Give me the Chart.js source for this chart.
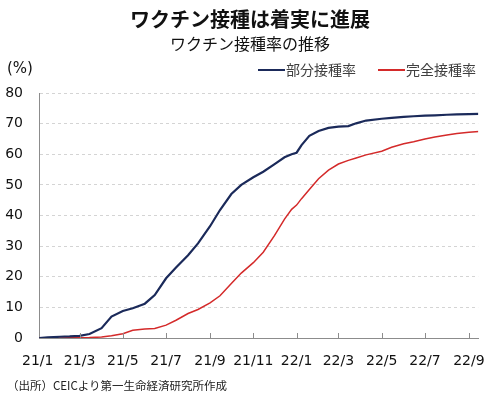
<!DOCTYPE html>
<html>
<head>
<meta charset="utf-8">
<script src="https://cdn.jsdelivr.net/npm/chart.js@4"></script>
<style>
  body { margin: 0; background: #fff; }
  #wrap { position: relative; width: 500px; height: 396px; font-family: "Noto Sans CJK JP", sans-serif; color: #111; }
  #wrap canvas { position: absolute; left: 0; top: 0; }
  .txt { position: absolute; white-space: nowrap; line-height: 1; }
  #title { left: 0; width: 500px; top: 9px; text-align: center; font-size: 20px; font-weight: bold; }
  #subtitle { left: 0; width: 500px; top: 35px; text-align: center; font-size: 16px; }
  #unit { left: 7px; top: 61px; font-size: 15px; font-family: "DejaVu Sans", sans-serif; }
  .leg { top: 62px; font-size: 14px; color: #404040; }
  .leg i { display: inline-block; width: 27px; height: 2px; vertical-align: middle; margin-right: 1px; position: relative; top: -1px; }
  #note { left: 7px; top: 380px; font-size: 11.5px; color: #222; }
</style>
</head>
<body>
<div id="wrap">
  <canvas id="vaxChart" width="500" height="396"></canvas>
  <div class="txt" id="title">ワクチン接種は着実に進展</div>
  <div class="txt" id="subtitle">ワクチン接種率の推移</div>
  <div class="txt" id="unit">(%)</div>
  <div class="txt leg" style="left:258px"><i style="background:#1b2a5a"></i>部分接種率</div>
  <div class="txt leg" style="left:378px"><i style="background:#d42a2a"></i>完全接種率</div>
  <div class="txt" id="note">（出所）CEICより第一生命経済研究所作成</div>
</div>
<script>
const dates = ["2021-01-03", "2021-01-15", "2021-02-01", "2021-02-15", "2021-03-01", "2021-03-15",
  "2021-04-01", "2021-04-15", "2021-05-01", "2021-05-15", "2021-06-01", "2021-06-15",
  "2021-07-01", "2021-07-15", "2021-08-01", "2021-08-15", "2021-09-01", "2021-09-15",
  "2021-10-01", "2021-10-15", "2021-11-01", "2021-11-15", "2021-12-01", "2021-12-15",
  "2021-12-25", "2022-01-01", "2022-01-08", "2022-01-19", "2022-02-01", "2022-02-15",
  "2022-03-01", "2022-03-15", "2022-03-26", "2022-04-09", "2022-05-01", "2022-05-15",
  "2022-06-01", "2022-06-15", "2022-07-01", "2022-07-15", "2022-08-01", "2022-08-15",
  "2022-09-01", "2022-09-15"];
const partialRate = [0, 0.2, 0.4, 0.5, 0.7, 1.3, 3.2, 7.0, 8.8, 9.7, 11.2, 14.0,
  19.5, 23.0, 27.0, 30.9, 36.5, 41.8, 47.0, 50.0, 52.5, 54.3, 56.8, 59.0,
  60.0, 60.5, 63.0, 66.0, 67.6, 68.6, 69.0, 69.2, 70.1, 71.0, 71.6, 71.9,
  72.2, 72.4, 72.6, 72.7, 72.9, 73.0, 73.1, 73.2];
const fullRate = [0, 0, 0, 0.05, 0.1, 0.15, 0.3, 0.7, 1.4, 2.5, 2.9, 3.1,
  4.2, 5.8, 8.0, 9.3, 11.5, 13.8, 17.8, 21.2, 24.6, 28.0, 33.5, 38.8,
  42.0, 43.4, 45.5, 48.5, 52.0, 54.8, 56.8, 58.0, 58.8, 59.8, 61.0, 62.3,
  63.4, 64.1, 65.0, 65.6, 66.3, 66.8, 67.2, 67.4];
const tickDates = ["2021-01-01", "2021-03-01", "2021-05-01", "2021-07-01", "2021-09-01", "2021-11-01",
  "2022-01-01", "2022-03-01", "2022-05-01", "2022-07-01", "2022-09-01"];
const tickLabels = ["21/1", "21/3", "21/5", "21/7", "21/9", "21/11", "22/1", "22/3", "22/5", "22/7", "22/9"];

// days since 2021-01-01
function dayOf(s) {
    const p = s.split("-").map(Number);
    return (Date.UTC(p[0], p[1] - 1, p[2]) - Date.UTC(2021, 0, 1)) / 86400000;
}
const tickDays = tickDates.map(dayOf);

// short tick marks pointing up from the x axis
const innerTicks = {
    id: "innerTicks",
    afterDraw(chart) {
        const ctx = chart.ctx, x = chart.scales.x, bottom = chart.chartArea.bottom;
        ctx.save();
        ctx.strokeStyle = "#8c8c8c";
        ctx.lineWidth = 1;
        tickDays.forEach(function (d) {
            if (d < x.min) return;
            const px = Math.round(x.getPixelForValue(d)) + 0.5;
            ctx.beginPath();
            ctx.moveTo(px, bottom);
            ctx.lineTo(px, bottom - 5);
            ctx.stroke();
        });
        ctx.restore();
    }
};

new Chart(document.getElementById("vaxChart"), {
    type: "line",
    data: {
        datasets: [{
            label: "部分接種率",
            data: dates.map((d, i) => ({ x: dayOf(d), y: partialRate[i] })),
            borderColor: "#1b2a5a",
            borderWidth: 2.2,
            pointRadius: 0,
            tension: 0
        }, {
            label: "完全接種率",
            data: dates.map((d, i) => ({ x: dayOf(d), y: fullRate[i] })),
            borderColor: "#d42a2a",
            borderWidth: 1.5,
            pointRadius: 0,
            tension: 0
        }]
    },
    options: {
        responsive: false,
        animation: false,
        layout: { padding: { top: 93, left: 5, right: 17, bottom: 25 } },
        plugins: {
            legend: { display: false },
            tooltip: { enabled: false }
        },
        scales: {
            x: {
                type: "linear",
                min: 1.8,
                max: 621,
                afterBuildTicks: function (scale) {
                    scale.ticks = tickDays.map(v => ({ value: v }));
                },
                afterFit: function (scale) { scale.height = 33; },
                ticks: {
                    autoSkip: false,
                    maxRotation: 0,
                    padding: 15,
                    color: "#111",
                    font: { family: "DejaVu Sans", size: 14 },
                    callback: function (v) {
                        const i = tickDays.indexOf(v);
                        return i >= 0 ? tickLabels[i] : "";
                    }
                },
                grid: { drawOnChartArea: false, drawTicks: false },
                border: { color: "#8c8c8c", width: 1 }
            },
            y: {
                min: 0,
                max: 80,
                afterFit: function (scale) { scale.width = 34; },
                ticks: {
                    stepSize: 10,
                    padding: 16,
                    color: "#111",
                    font: { family: "DejaVu Sans", size: 14 }
                },
                grid: { color: "#d4d4d4", drawTicks: false },
                border: { color: "#8c8c8c", width: 1, dash: [3, 3] }
            }
        }
    },
    plugins: [innerTicks]
});
</script>
</body>
</html>
